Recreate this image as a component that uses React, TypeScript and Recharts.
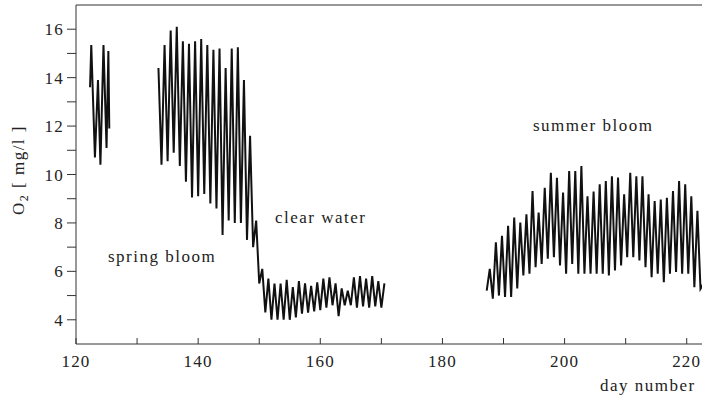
import { Line, LineChart, ReferenceLine, XAxis, YAxis } from "recharts";

// day numbers and O2 readings [mg/l]
const earlySpringDays = [122.3, 122.5, 123.1, 123.6, 124.0, 124.5, 125.0, 125.3, 125.45];
const earlySpringO2 = [13.6, 15.35, 10.7, 13.9, 10.4, 15.35, 11.1, 15.1, 11.9];

// half-day samples from day 133.5
const springBloomStart = 133.5;
const springBloomO2 = [
  14.4, 10.4, 15.35, 10.55, 15.95, 10.9, 16.1, 10.35, 15.5, 9.7, 15.4, 9.05, 15.5, 9.1, 15.6, 9.2, 15.35, 8.8,
  15.15, 8.6, 15.2, 7.5, 14.4, 8.1, 15.2, 8.0, 15.25, 8.0, 13.9, 7.3, 11.6, 7.0, 8.1,
];

// half-day samples from day 150
const clearWaterStart = 150;
const clearWaterO2 = [
  5.5, 6.1, 4.3, 5.7, 4.0, 5.5, 4.0, 5.5, 4.0, 5.65, 4.0, 5.35, 4.1, 5.6, 4.25, 5.5, 4.3, 5.4, 4.35, 5.55, 4.4, 5.7,
  4.5, 5.75, 4.6, 5.5, 4.15, 5.3, 4.6, 5.2, 4.6, 5.75, 4.5, 5.8, 4.55, 5.7, 4.5, 5.8, 4.55, 5.6, 4.5, 5.5,
];

// half-day samples from day 187.25
const summerStart = 187.25;
const summerO2 = [
  5.2, 6.1, 4.87, 7.2, 5.0, 7.47, 4.94, 7.88, 4.94, 8.22, 5.29, 8.02, 5.83, 8.36, 5.9, 9.32, 6.17, 8.43, 6.31, 9.45,
  6.52, 10.07, 6.58, 9.86, 6.24, 9.25, 5.9, 10.14, 6.31, 10.14, 5.9, 10.35, 5.9, 9.1, 5.9, 9.3, 5.9, 9.6, 5.9, 9.73,
  5.83, 9.93, 6.04, 9.87, 6.24, 9.18, 6.58, 10.07, 6.58, 9.93, 6.45, 9.93, 6.17, 9.18, 5.76, 8.9, 5.9, 8.97, 5.55,
  9.04, 5.9, 9.32, 5.97, 9.73, 5.9, 9.6, 5.9, 9.1, 5.35, 8.5, 5.28, 5.5,
];

const xTicks = [120, 130, 140, 150, 160, 170, 180, 190, 200, 210, 220];
const yTicks = [4, 5, 6, 7, 8, 9, 10, 11, 12, 13, 14, 15, 16];

const halfDaySeries = (start: number, values: number[]) =>
  values.map((o2, i) => ({ day: start + i * 0.5, o2 }));

const earlySpring = earlySpringDays.map((day, i) => ({ day, o2: earlySpringO2[i] }));
const springToClear = [
  ...halfDaySeries(springBloomStart, springBloomO2),
  ...halfDaySeries(clearWaterStart, clearWaterO2),
];
const summer = halfDaySeries(summerStart, summerO2);

const font = '"Liberation Serif", "DejaVu Serif", "Times New Roman", serif';
const ink = "#222";
const axis = "#333";
const tickStyle = { fontFamily: font, fontSize: 17, fill: ink, letterSpacing: 1.2, style: { fontFamily: font } };

export default function App() {
  return (
    <div
      style={{
        position: "absolute",
        left: 0,
        top: 0,
        width: 702,
        height: 400,
        overflow: "hidden",
        background: "#fff",
        fontFamily: font,
      }}
    >
      <LineChart width={702} height={400} margin={{ top: 5, right: 0, bottom: 26, left: 0 }} style={{ fontFamily: font }}>
        <XAxis
          type="number"
          dataKey="day"
          domain={[120, 222.5]}
          allowDataOverflow
          ticks={xTicks}
          tickFormatter={(v) => (v % 20 === 0 ? String(v) : "")}
          height={30}
          stroke={axis}
          tickSize={-6}
          tickMargin={17}
          tick={tickStyle}
        />
        <YAxis
          type="number"
          dataKey="o2"
          domain={[3, 17]}
          allowDataOverflow
          ticks={yTicks}
          tickFormatter={(v) => (v % 2 === 0 ? String(v) : "")}
          width={76}
          stroke={axis}
          tickSize={9}
          tickMargin={3}
          tick={tickStyle}
        />
        <ReferenceLine y={17} stroke={axis} />
        <Line data={earlySpring} dataKey="o2" stroke="#111" strokeWidth={2} dot={false} isAnimationActive={false} />
        <Line data={springToClear} dataKey="o2" stroke="#111" strokeWidth={2} dot={false} isAnimationActive={false} />
        <Line data={summer} dataKey="o2" stroke="#111" strokeWidth={2} dot={false} isAnimationActive={false} />
      </LineChart>
      <svg width={702} height={400} style={{ position: "absolute", left: 0, top: 0, pointerEvents: "none", fontFamily: font }}>
        <g fontSize={17} fill={ink} letterSpacing={1.5} style={{ fontFamily: font }}>
          <text transform="translate(24,170) rotate(-90)" textAnchor="middle">
            O<tspan dy={4} fontSize={12}>2</tspan>
            <tspan dy={-4}> [ mg/l ]</tspan>
          </text>
          <text x={108} y={262}>spring bloom</text>
          <text x={275} y={223}>clear water</text>
          <text x={533} y={131}>summer bloom</text>
          <text x={600} y={391}>day number</text>
        </g>
      </svg>
    </div>
  );
}
